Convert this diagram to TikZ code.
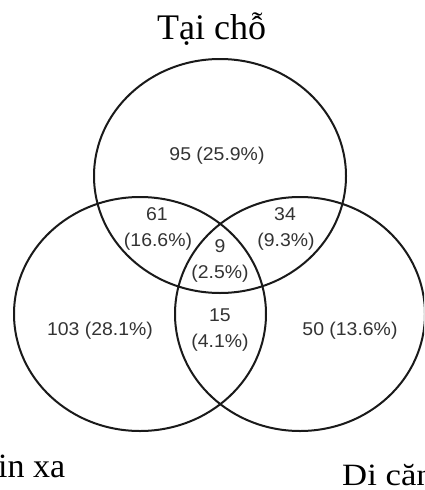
\documentclass[tikz,border=0pt]{standalone}
\usepackage{fontspec}
\newfontfamily\lab[FakeStretch=1.05]{Liberation Sans}
\newfontfamily\ttl{Liberation Serif}
\newfontfamily\ttlw[FakeStretch=1.12]{Liberation Serif}
\definecolor{ink}{HTML}{1A1A1A}
\definecolor{txt}{HTML}{333333}
\tikzset{
  set/.style={draw=ink, line width=2pt},
  num/.style={font=\lab\fontsize{18.5}{18.5}\selectfont, text=txt, inner sep=0pt, text height=13pt, text depth=0pt, anchor=center},
  title/.style={font=\ttl\fontsize{34}{34}\selectfont, text=black, inner sep=0pt, anchor=base west}
}
\begin{document}
\begin{tikzpicture}[x=1pt, y=-1pt]
\clip (0,0) rectangle (424,490);
\useasboundingbox (0,0) rectangle (424,490);
\fill[white] (0,0) rectangle (424,490);
% sets
\draw[set] (220,176) ellipse [x radius=126pt, y radius=117pt];
\draw[set] (140,314) ellipse [x radius=126pt, y radius=117pt];
\draw[set] (300,314) ellipse [x radius=125pt, y radius=117pt];
% titles
\node[title, font=\ttl\fontsize{36}{36}\selectfont] (ttop) at (157,39) {Tại chỗ};
\node[title] (tleft) at (-2,477) {in xa};
\node[title, font=\ttlw\fontsize{31}{31}\selectfont] (tright) at (342,485) {Di căn};
% counts
\node[num] (a) at (217,154) {95 (25.9\%)};
\node[num] (b1) at (157,214) {61};
\node[num] (b2) at (158,240) {(16.6\%)};
\node[num] (c1) at (285,214) {34};
\node[num] (c2) at (286,240) {(9.3\%)};
\node[num] (d1) at (220,246) {9};
\node[num] (d2) at (220,272) {(2.5\%)};
\node[num] (e1) at (220,315) {15};
\node[num] (e2) at (220,341) {(4.1\%)};
\node[num] (f) at (100,329) {103 (28.1\%)};
\node[num] (g) at (350,329) {50 (13.6\%)};
\end{tikzpicture}
\end{document}
